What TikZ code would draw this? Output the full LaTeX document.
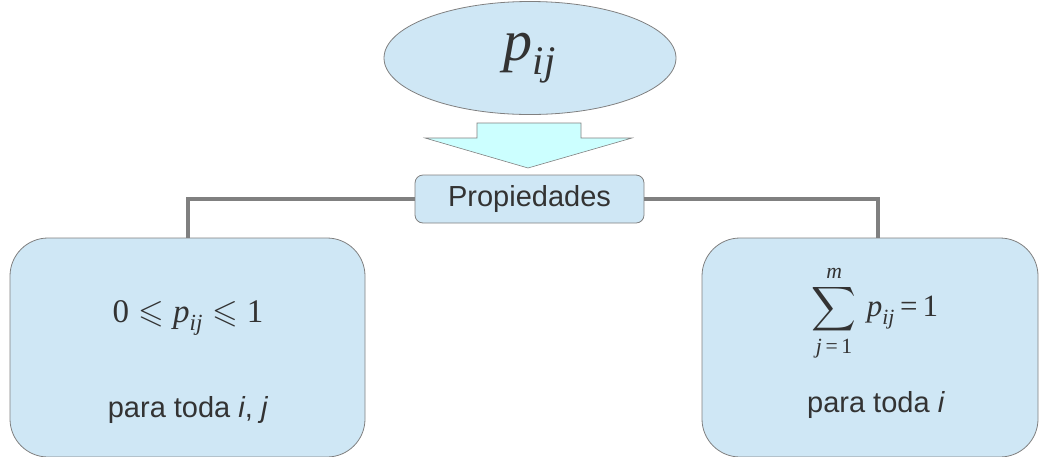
\RequirePackage{fix-cm}
\documentclass[tikz,border=0pt]{standalone}
\usepackage{amsmath}
\usepackage{amssymb}
\usepackage{fontspec}
\setsansfont{Liberation Sans}
\newfontfamily\tms{Liberation Serif}
\newcommand{\ti}[1]{\text{\tms\itshape #1}}
\newcommand{\tr}[1]{\text{\tms #1}}
\usetikzlibrary{shapes.geometric}
\definecolor{lb}{HTML}{CFE7F5}
\definecolor{cy}{HTML}{CCFFFF}
\definecolor{edge}{HTML}{808080}
\definecolor{txt}{HTML}{333333}
\begin{document}
\begin{tikzpicture}[x=1pt,y=-1pt,
  box/.style={draw=edge, line width=0.8pt, fill=lb, rounded corners=38pt, inner sep=0pt},
  conn/.style={draw=edge, line width=4pt},
  sans/.style={font=\sffamily\fontsize{29}{32}\selectfont, text=txt},
  formula/.style={font=\fontsize{33}{36}\selectfont, text=txt}]
\useasboundingbox (0,0) rectangle (1040,456);
\clip (0,0) rectangle (1040,456);
% top ellipse
\node[ellipse, draw=edge, line width=0.8pt, fill=lb, minimum width=292pt, minimum height=113pt, inner sep=0pt, text=txt, font=\fontsize{58}{62}\selectfont] (top) at (530,58) {$\ti{p}_{\ti{ij}}$};
% block arrow
\draw[draw=edge, line width=0.6pt, fill=cy] (477,123) -- (581,123) -- (581,138) -- (632,138) -- (528,168) -- (425,138) -- (477,138) -- cycle;
% boxes
\node[box, minimum width=355pt, minimum height=219pt] (left) at (187.5,347.5) {};
\node[box, minimum width=336pt, minimum height=219pt] (right) at (870,347.5) {};
\node[draw=edge, line width=0.8pt, fill=lb, rounded corners=8pt, minimum width=229pt, minimum height=48pt, inner sep=0pt, sans] (prop) at (529.5,199) {Propiedades};
% connectors
\coordinate (rtop) at ([xshift=8pt]right.north);
\draw[conn] (prop.west) -| (left.north);
\draw[conn] (prop.east) -| (rtop);
% texts
\node[formula] (f1) at (188,318) {$\tr{0}\mathrel{\leqslant} \ti{p}_{\ti{ij}}\mathrel{\leqslant} \tr{1}$};
\node[sans] (t1) at (188,410) {para toda \textit{i}, \textit{j}};
\node[formula, font=\fontsize{31}{34}\selectfont] (f2) at (875,313) {$\displaystyle\sum_{\ti{j}\,\tr{=}\,\tr{1}}^{\ti{m}}\, \ti{p}_{\ti{ij}}\,\tr{=}\,\tr{1}$};
\node[sans] (t2) at (876,405) {para toda \textit{i}};
\end{tikzpicture}
\end{document}
